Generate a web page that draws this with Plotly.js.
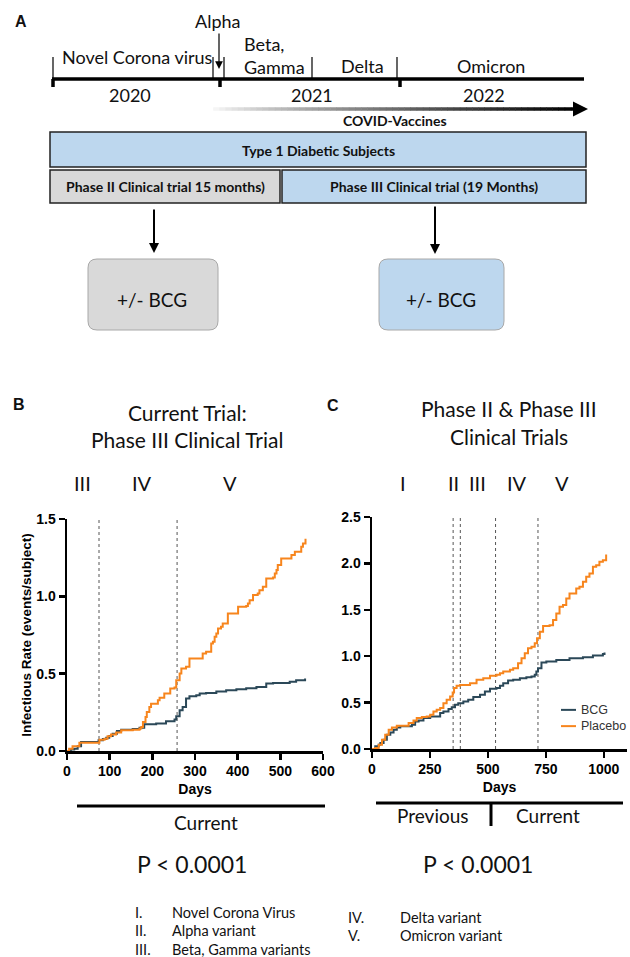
<!DOCTYPE html>
<html>
<head>
<meta charset="utf-8">
<script src="https://cdn.plot.ly/plotly-3.0.1.min.js"></script>
<style>html,body{margin:0;padding:0;background:#fff;}#chart{width:630px;height:957px;}</style>
</head>
<body>
<div id="chart"></div>
<script>
// ---------------- DATA ----------------
// Panel B: current trial (Phase III), cumulative infectious rate (events/subject) vs days
const daysB_bcg = [0, 9, 17, 25, 33, 68, 74, 84, 92, 99, 107, 117, 127, 154, 170, 181, 209, 232, 252, 256, 264, 271, 279, 287, 303, 311, 326, 350, 373, 397, 420, 444, 467, 483, 522, 537, 558];
const rateB_bcg = [0, 0.009, 0.015, 0.030, 0.058, 0.058, 0.069, 0.078, 0.086, 0.097, 0.112, 0.129, 0.138, 0.142, 0.151, 0.173, 0.177, 0.192, 0.203, 0.224, 0.263, 0.285, 0.339, 0.354, 0.360, 0.371, 0.375, 0.384, 0.393, 0.399, 0.406, 0.414, 0.436, 0.440, 0.447, 0.458, 0.468];
const daysB_pbo = [0, 5, 13, 29, 72, 76, 88, 95, 103, 115, 127, 142, 154, 170, 174, 178, 184, 187, 193, 197, 205, 213, 217, 228, 240, 242, 252, 256, 264, 268, 279, 287, 314, 318, 326, 334, 338, 342, 346, 350, 354, 361, 365, 377, 397, 401, 420, 424, 428, 436, 447, 451, 459, 467, 483, 487, 491, 494, 502, 522, 526, 534, 545, 549, 553, 559];
const rateB_pbo = [0, 0.015, 0.030, 0.054, 0.054, 0.073, 0.080, 0.095, 0.106, 0.119, 0.134, 0.134, 0.138, 0.145, 0.155, 0.188, 0.220, 0.252, 0.285, 0.306, 0.306, 0.328, 0.345, 0.371, 0.371, 0.404, 0.410, 0.457, 0.501, 0.533, 0.544, 0.598, 0.598, 0.630, 0.641, 0.641, 0.695, 0.706, 0.738, 0.760, 0.792, 0.803, 0.824, 0.889, 0.889, 0.932, 0.937, 0.954, 0.975, 1.008, 1.019, 1.040, 1.062, 1.116, 1.122, 1.148, 1.170, 1.202, 1.245, 1.245, 1.267, 1.288, 1.288, 1.321, 1.342, 1.372];

// Panel C: Phase II & Phase III combined
const daysC_bcg = [0, 14, 29, 36, 50, 64, 79, 93, 107, 122, 150, 172, 186, 201, 222, 251, 279, 294, 308, 330, 344, 358, 372, 394, 415, 437, 466, 487, 509, 537, 552, 566, 587, 609, 638, 666, 688, 702, 709, 716, 731, 752, 795, 852, 910, 953, 996, 1003];
const rateC_bcg = [0, 0.029, 0.047, 0.064, 0.100, 0.154, 0.179, 0.208, 0.233, 0.244, 0.244, 0.261, 0.297, 0.308, 0.333, 0.351, 0.351, 0.387, 0.405, 0.430, 0.451, 0.476, 0.494, 0.512, 0.530, 0.559, 0.584, 0.620, 0.648, 0.656, 0.681, 0.709, 0.738, 0.745, 0.763, 0.774, 0.781, 0.799, 0.835, 0.870, 0.931, 0.942, 0.960, 0.978, 0.989, 1.007, 1.024, 1.040];
const daysC_pbo = [0, 14, 29, 43, 57, 72, 86, 107, 136, 158, 179, 193, 215, 236, 251, 265, 279, 294, 308, 322, 337, 348, 354, 365, 380, 408, 423, 451, 480, 509, 537, 552, 566, 595, 609, 630, 645, 659, 673, 688, 702, 712, 724, 738, 766, 781, 795, 809, 824, 838, 852, 881, 895, 910, 924, 938, 953, 967, 981, 996, 1010];
const rateC_pbo = [0, 0.011, 0.047, 0.100, 0.154, 0.208, 0.233, 0.251, 0.251, 0.279, 0.308, 0.333, 0.344, 0.351, 0.369, 0.405, 0.423, 0.441, 0.494, 0.530, 0.566, 0.609, 0.656, 0.681, 0.691, 0.691, 0.709, 0.745, 0.763, 0.788, 0.799, 0.817, 0.835, 0.853, 0.870, 0.924, 0.978, 1.032, 1.085, 1.103, 1.139, 1.193, 1.264, 1.325, 1.333, 1.390, 1.461, 1.533, 1.551, 1.623, 1.676, 1.730, 1.748, 1.802, 1.855, 1.891, 1.963, 1.981, 2.017, 2.035, 2.095];

// variant-wave boundaries (days) and numeral labels
const wavesB = [75, 258];
const wavesC = [350, 381, 533, 716];
const numeralsB = ['III', 'IV', 'V'];
const numeralsC = ['I', 'II', 'III', 'IV', 'V'];
const seriesNames = ['BCG', 'Placebo'];

// Panel A text
const eraLabels = ['Novel Corona virus', 'Beta,<br>Gamma', 'Delta', 'Omicron'];
const yearLabels = ['2020', '2021', '2022'];
const keyNumerals1 = ['I.', 'II.', 'III.'];
const keyTexts1 = ['Novel Corona Virus', 'Alpha variant', 'Beta, Gamma variants'];
const keyNumerals2 = ['IV.', 'V.'];
const keyTexts2 = ['Delta variant', 'Omicron variant'];

// ---------------- LAYOUT HELPERS ----------------
const W = 630, H = 957;
const X = p => p / W;
const Y = p => 1 - p / H;
const CAL = 'Lato, Carlito, sans-serif';
const ARI = 'Liberation Sans, Arial, sans-serif';
const ORANGE = '#F7851D';
const TEAL = '#2B4858';
const BLUE = '#BDD7EE';
const GREY = '#D9D9D9';

const ann = [];
const shp = [];
function txt(x, y, text, size, o) {
  o = o || {};
  ann.push({xref: 'paper', yref: 'paper', x: X(x), y: Y(y), text: text, showarrow: false,
    xanchor: o.xa || 'center', yanchor: 'middle', align: o.align || 'center', borderpad: o.pad === undefined ? 1 : o.pad,
    font: {family: o.fam || CAL, size: size, color: o.color || '#111', weight: o.bold ? 'bold' : 'normal'}});
}
function line(x0, y0, x1, y1, w, c, dash) {
  shp.push({type: 'line', xref: 'paper', yref: 'paper', x0: X(x0), y0: Y(y0), x1: X(x1), y1: Y(y1),
    line: {color: c || '#000', width: w, dash: dash || 'solid'}});
}
function rect(x0, y0, x1, y1, fill, lc, lw) {
  shp.push({type: 'rect', xref: 'paper', yref: 'paper', x0: X(x0), y0: Y(y0), x1: X(x1), y1: Y(y1),
    fillcolor: fill, line: {color: lc, width: lw}});
}
function rrect(x0, y0, x1, y1, r, fill, lc, lw) {
  const rx = r / W, ry = r / H;
  const a = X(x0), b = X(x1), t = Y(y0), u = Y(y1);
  const p = `M ${a + rx},${t} L ${b - rx},${t} Q ${b},${t} ${b},${t - ry} L ${b},${u + ry} Q ${b},${u} ${b - rx},${u} ` +
            `L ${a + rx},${u} Q ${a},${u} ${a},${u + ry} L ${a},${t - ry} Q ${a},${t} ${a + rx},${t} Z`;
  shp.push({type: 'path', xref: 'paper', yref: 'paper', path: p, fillcolor: fill, line: {color: lc, width: lw}});
}
function arrow(x, y, ax, ay, w, head, size) {
  ann.push({xref: 'paper', yref: 'paper', x: X(x), y: Y(y), ax: ax, ay: ay, axref: 'pixel', ayref: 'pixel',
    text: '', showarrow: true, arrowhead: head, arrowsize: size, arrowwidth: w, arrowcolor: '#000'});
}

// ---------------- PANEL A ----------------
txt(21, 22, 'A', 16, {bold: true, fam: ARI});
txt(217, 21, 'Alpha', 18);
arrow(219, 69, 0, -37, 1.2, 2, 1.3);
line(52, 79, 584, 79, 3.5);
[53, 213, 224, 312, 397].forEach(x => line(x, 57, x, 79, 1.2));
[53, 220, 400].forEach(x => line(x, 79, x, 87, 3.5));
txt(137, 57, eraLabels[0], 18);
txt(242, 55, eraLabels[1], 18, {xa: 'left', align: 'left'});
txt(363, 66, eraLabels[2], 18);
txt(491, 66, eraLabels[3], 18);
txt(130, 95, yearLabels[0], 18);
txt(312, 95, yearLabels[1], 18);
txt(484, 95, yearLabels[2], 18);
// gradient vaccine arrow
const gx0 = 207, gx1 = 577, nSeg = 60;
for (let i = 0; i < nSeg; i++) {
  const f = i / (nSeg - 1);
  const g = Math.round(255 * (1 - Math.pow(f, 0.8)));
  const xa = gx0 + (gx1 - gx0) * i / nSeg, xb = gx0 + (gx1 - gx0) * (i + 1) / nSeg + 0.5;
  line(xa, 109, xb, 109, 3.5, `rgb(${g},${g},${g})`);
}
arrow(588, 109, -14, 0, 3, 2, 1);
txt(395, 121, 'COVID-Vaccines', 14, {bold: true});
rect(50, 132, 586, 167, BLUE, '#222', 1.5);
txt(318, 150, 'Type 1 Diabetic Subjects', 14, {bold: true});
rect(50, 170, 280, 203, GREY, '#222', 1.5);
txt(165, 187, 'Phase II Clinical trial 15 months)', 14, {bold: true});
rect(282, 170, 586, 203, BLUE, '#222', 1.5);
txt(434, 187, 'Phase III Clinical trial (19 Months)', 14, {bold: true});
arrow(154, 253, 0, -45, 2, 2, 1);
arrow(435, 254, 0, -49, 2, 2, 1);
rrect(88, 259, 218, 330, 9, GREY, '#A8A8A8', 1);
rrect(379, 259, 504, 330, 9, BLUE, '#A8A8A8', 1);
txt(152, 299, '+/- BCG', 19);
txt(441, 299, '+/- BCG', 19);

// ---------------- PANELS B & C annotations ----------------
txt(19, 404, 'B', 16, {bold: true, fam: ARI});
txt(333, 405, 'C', 16, {bold: true, fam: ARI});
txt(187, 412, 'Current Trial:', 21);
txt(187, 439, 'Phase III Clinical Trial', 21);
txt(509, 408, 'Phase II &amp; Phase III', 21);
txt(509, 436, 'Clinical Trials', 21);
[82, 142, 230].forEach((x, i) => txt(x, 483, numeralsB[i], 20));
[403, 453, 477, 517, 562].forEach((x, i) => txt(x, 483, numeralsC[i], 20));

line(77, 806, 325, 806, 3);
txt(206, 822, 'Current', 19);
line(376, 803, 623, 803, 3);
line(491, 803, 491, 826, 3);
txt(433, 815, 'Previous', 19);
txt(548, 815, 'Current', 19);

txt(192, 864, 'P &lt; 0.0001', 23);
txt(478, 864, 'P &lt; 0.0001', 23);
[912, 930, 949].forEach((y, i) => {
  txt(133, y, keyNumerals1[i], 14.5, {xa: 'left'});
  txt(170, y, keyTexts1[i], 14.5, {xa: 'left'});
});
[917, 935].forEach((y, i) => {
  txt(346, y, keyNumerals2[i], 14.5, {xa: 'left'});
  txt(398, y, keyTexts2[i], 14.5, {xa: 'left'});
});

// compact legend for panel C (series names): one two-line text block + line samples
const legLH = 12.5 * 1.3;
[TEAL, ORANGE].forEach((c, i) => line(561, 718 + (i - 0.5) * legLH, 576, 718 + (i - 0.5) * legLH, 2, c));
txt(580, 718, seriesNames.join('<br>'), 12.5, {xa: 'left', align: 'left', fam: ARI, color: '#333', pad: 0});

// wave lines
wavesB.forEach(v => shp.push({type: 'line', xref: 'x', yref: 'y domain', x0: v, x1: v, y0: 0, y1: 1, layer: 'below',
  line: {color: '#555', width: 1, dash: 'dot'}}));
wavesC.forEach(v => shp.push({type: 'line', xref: 'x2', yref: 'y2 domain', x0: v, x1: v, y0: 0, y1: 1, layer: 'below',
  line: {color: '#555', width: 1, dash: 'dot'}}));

// ---------------- TRACES ----------------
const traces = [
  {x: daysB_bcg, y: rateB_bcg, xaxis: 'x', yaxis: 'y', name: seriesNames[0], mode: 'lines',
   line: {shape: 'hv', color: TEAL, width: 2}},
  {x: daysB_pbo, y: rateB_pbo, xaxis: 'x', yaxis: 'y', name: seriesNames[1], mode: 'lines',
   line: {shape: 'hv', color: ORANGE, width: 2}},
  {x: daysC_bcg, y: rateC_bcg, xaxis: 'x2', yaxis: 'y2', name: seriesNames[0], mode: 'lines',
   line: {shape: 'hv', color: TEAL, width: 2}},
  {x: daysC_pbo, y: rateC_pbo, xaxis: 'x2', yaxis: 'y2', name: seriesNames[1], mode: 'lines',
   line: {shape: 'hv', color: ORANGE, width: 2}}
];

const tickFont = {family: ARI, size: 14, color: '#000', weight: 'bold'};
const axBase = {showgrid: false, zeroline: false, showline: true, linecolor: '#000', linewidth: 2.5,
  ticks: 'outside', ticklen: 6, tickwidth: 2.5, tickcolor: '#000', tickfont: tickFont, automargin: false};

const layout = {
  width: W, height: H, margin: {l: 0, r: 0, t: 0, b: 0},
  paper_bgcolor: '#fff', plot_bgcolor: 'rgba(0,0,0,0)',
  xaxis: Object.assign({}, axBase, {domain: [X(67), X(323)], range: [0, 600], dtick: 100, anchor: 'y',
    title: {text: 'Days', font: {family: ARI, size: 14, color: '#000', weight: 'bold'}, standoff: 6}}),
  yaxis: Object.assign({}, axBase, {domain: [Y(751), Y(519)], range: [0, 1.5], dtick: 0.5, tickformat: '.1f', anchor: 'x',
    title: {text: 'Infectious Rate (events/subject)', font: {family: ARI, size: 13.5, color: '#000', weight: 'bold'}, standoff: 2}}),
  xaxis2: Object.assign({}, axBase, {domain: [X(372), X(627)], range: [0, 1100], tickvals: [0, 250, 500, 750, 1000], anchor: 'y2',
    title: {text: 'Days', font: {family: ARI, size: 14, color: '#000', weight: 'bold'}, standoff: 6}}),
  yaxis2: Object.assign({}, axBase, {domain: [Y(749), Y(517)], range: [0, 2.5], dtick: 0.5, tickformat: '.1f', anchor: 'x2'}),
  showlegend: false,
  annotations: ann,
  shapes: shp
};

Plotly.newPlot('chart', traces, layout, {displayModeBar: false, staticPlot: true});
</script>
</body>
</html>
